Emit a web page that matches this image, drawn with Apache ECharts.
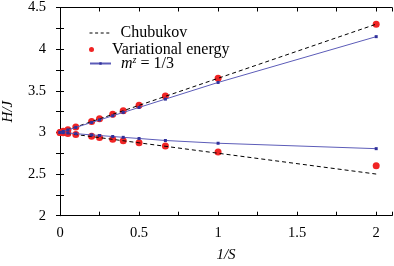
<!DOCTYPE html>
<html><head><meta charset="utf-8">
<script src="https://cdn.jsdelivr.net/npm/echarts@6/dist/echarts.min.js"></script>
<style>html,body{margin:0;padding:0;background:#fff}#c{width:394px;height:266px}</style>
</head><body><div id="c"></div>
<script>
// 1/S values
const invS = [0, 0.02, 0.05, 0.1, 0.2, 0.25, 1/3, 0.4, 0.5, 2/3, 1, 2];
const varUpper = [3, 3.013, 3.033, 3.065, 3.13, 3.163, 3.217, 3.26, 3.325, 3.438, 3.65, 4.30];
const varLower = [3, 2.995, 2.988, 2.975, 2.955, 2.94, 2.917, 2.9, 2.877, 2.837, 2.765, 2.60];
const mzUpper = [3, 3.012, 3.03, 3.06, 3.12, 3.15, 3.2, 3.24, 3.30, 3.40, 3.60, 4.15];
const mzLower = [3, 2.997, 2.993, 2.985, 2.97, 2.963, 2.951, 2.941, 2.927, 2.903, 2.87, 2.805];
const chubX = [0, 2];
const chubUpper = [3, 4.3];
const chubLower = [3, 2.5];
const xTicks = [0, 0.5, 1, 1.5, 2];
const yTicks = [2, 2.5, 3, 3.5, 4, 4.5];

const FONT = '"Liberation Serif", serif';
const RED = '#f02424';
const pair = (xs, ys) => xs.map((x, i) => [x, ys[i]]);
const isTick = (v, list) => list.some(t => Math.abs(t - v) < 1e-6);

const chart = echarts.init(document.getElementById('c'), null, {renderer: 'canvas'});
const axisCommon = {
  axisLine: {lineStyle: {color: '#000', width: 1}},
  axisTick: {inside: true, length: 4, lineStyle: {color: '#000'}},
  splitLine: {show: false}
};
const mkLegendText = () => ({fontFamily: FONT, fontSize: 16, color: '#000',
  rich: {
    i: {fontFamily: FONT, fontSize: 16, fontStyle: 'italic', color: '#000', padding: [0, 0, 0, 5]},
    s: {fontFamily: FONT, fontSize: 10, fontStyle: 'italic', color: '#000', padding: [0, 0, 7, 0]},
    n: {fontFamily: FONT, fontSize: 16, color: '#000'},
    t: {fontFamily: FONT, fontSize: 16, color: '#000', padding: [0, 0, 0, 5]}
  }});
const mkLegend = (extra) => Object.assign({orient: 'vertical', left: 84, itemWidth: 21,
  formatter: n => n === 'mz' ? '{i|m}{s|z}{n| = 1/3}' : '{t|' + n + '}', textStyle: mkLegendText()}, extra);
const opt = {
  animation: false,
  textStyle: {fontFamily: FONT},
  grid: {left: 60, right: 2, top: 7.5, bottom: 50.3, outerBoundsMode: 'none', containLabel: false},
  xAxis: [
    Object.assign({type: 'value', min: 0, max: 2.1, interval: 0.25, position: 'bottom',
      name: '1/S', nameLocation: 'middle', nameGap: 32,
      nameTextStyle: {fontFamily: FONT, fontSize: 15, color: '#000', fontStyle: 'italic'},
      axisLabel: {interval: 0, margin: 10, fontFamily: FONT, fontSize: 14.5, color: '#000',
        formatter: v => isTick(v, xTicks) ? String(+v.toFixed(2)) : ''}}, axisCommon),
    Object.assign({type: 'value', min: 0, max: 2.1, interval: 0.25, position: 'top',
      axisLabel: {show: false}}, axisCommon)
  ],
  yAxis: [
    Object.assign({type: 'value', min: 2, max: 4.5, interval: 0.25, position: 'left',
      name: 'H/J', nameLocation: 'middle', nameGap: 44, nameRotate: 90,
      nameTextStyle: {fontFamily: FONT, fontSize: 15, color: '#000', fontStyle: 'italic'},
      axisLabel: {interval: 0, margin: 14, fontFamily: FONT, fontSize: 14.5, color: '#000',
        formatter: v => isTick(v, yTicks) ? String(+v.toFixed(2)) : ''}}, axisCommon),
    Object.assign({type: 'value', min: 2, max: 4.5, interval: 0.25, position: 'right',
      axisLabel: {show: false}}, axisCommon)
  ],
  legend: [
    mkLegend({top: 20, itemHeight: 12,
      data: [{name: 'Chubukov', itemStyle: {opacity: 0}, lineStyle: {width: 1, type: [3, 2.6], color: '#000'}}]}),
    mkLegend({top: 36.5, itemHeight: 5,
      data: [{name: 'Variational energy', icon: 'circle'}]}),
    mkLegend({top: 50, itemHeight: 3, data: ['mz']})
  ],
  series: [
    {name: 'Chubukov', type: 'line', data: pair(chubX, chubUpper), symbol: 'none',
      lineStyle: {color: '#000', width: 1, type: [4, 3]}, itemStyle: {color: '#000'}},
    {name: 'Chubukov', type: 'line', data: pair(chubX, chubLower), symbol: 'none',
      lineStyle: {color: '#000', width: 1, type: [4, 3]}, itemStyle: {color: '#000'}},
    {name: 'Variational energy', type: 'scatter', data: pair(invS, varUpper), symbol: 'circle', symbolSize: 7,
      itemStyle: {color: RED, opacity: 1}},
    {name: 'Variational energy', type: 'scatter', data: pair(invS, varLower), symbol: 'circle', symbolSize: 7,
      itemStyle: {color: RED, opacity: 1}},
    {name: 'mz', type: 'line', data: pair(invS, mzUpper), symbol: 'rect', symbolSize: 3, showSymbol: true,
      lineStyle: {color: '#5c5cb8', width: 1}, itemStyle: {color: '#30309a'}},
    {name: 'mz', type: 'line', data: pair(invS, mzLower), symbol: 'rect', symbolSize: 3, showSymbol: true,
      lineStyle: {color: '#5c5cb8', width: 1}, itemStyle: {color: '#30309a'}}
  ]
};
chart.setOption(opt);
</script></body></html>
